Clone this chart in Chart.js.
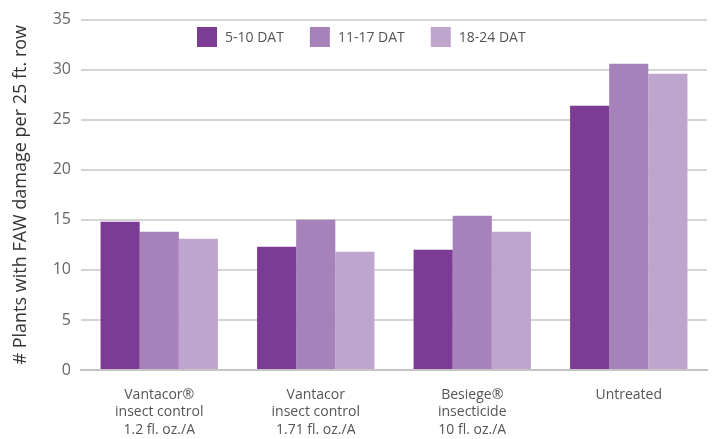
<!DOCTYPE html>
<html>
<head>
<meta charset="utf-8">
<script src="https://cdn.jsdelivr.net/npm/chart.js@4"></script>
<style>
  html, body { margin: 0; padding: 0; background: #fff; }
  #wrap { width: 714px; height: 439px; }
</style>
</head>
<body>
<div id="wrap"><canvas id="c" width="714" height="439"></canvas></div>
<script>
// treatments along the x axis (each label split into lines)
const categories = [
  ["Vantacor\u00AE", "insect control", "1.2 fl. oz./A"],
  ["Vantacor", "insect control", "1.71 fl. oz./A"],
  ["Besiege\u00AE", "insecticide", "10 fl. oz./A"],
  ["Untreated"]
]
const seriesNames = ["5-10 DAT", "11-17 DAT", "18-24 DAT"]
const dat5to10 = [14.8, 12.3, 12.0, 26.4]
const dat11to17 = [13.8, 15.0, 15.4, 30.6]
const dat18to24 = [13.1, 11.8, 13.8, 29.6]
const yTicks = [0, 5, 10, 15, 20, 25, 30, 35]

const colors = ["#7c3c95", "#a681ba", "#bfa5cd"]
const FONT = "'Open Sans', 'Noto Sans', sans-serif"

// legend drawn inside the plot area, like the original
const insideLegend = {
  id: "insideLegend",
  afterDraw(chart) {
    const ctx = chart.ctx
    ctx.save()
    ctx.font = "14px " + FONT
    ctx.textBaseline = "middle"
    let x = 197
    const y = 37
    chart.data.datasets.forEach((ds, i) => {
      ctx.fillStyle = ds.backgroundColor
      ctx.fillRect(x, y - 10, 20, 20)
      ctx.fillStyle = "#555"
      ctx.fillText(ds.label, x + 28, y + 1)
      x += 28 + ctx.measureText(ds.label).width + 26
    })
    ctx.restore()
  }
}

new Chart(document.getElementById("c"), {
  type: "bar",
  data: {
    labels: categories,
    datasets: [dat5to10, dat11to17, dat18to24].map((d, i) => ({
      label: seriesNames[i],
      data: d,
      backgroundColor: colors[i],
      categoryPercentage: 0.75,
      barPercentage: 1.0
    }))
  },
  options: {
    responsive: false,
    animation: false,
    layout: { padding: { top: 12, right: 7, left: 0, bottom: 0 } },
    plugins: {
      legend: { display: false },
      tooltip: { enabled: false }
    },
    scales: {
      x: {
        grid: { display: false },
        border: { display: true, color: "#c4c4c4", width: 2 },
        ticks: {
          color: "#555",
          font: { family: FONT, size: 14, lineHeight: 1.25 },
          padding: 8,
          maxRotation: 0,
          autoSkip: false
        },
        afterFit(scale) { scale.height = 69 }
      },
      y: {
        min: 0,
        max: 35,
        afterBuildTicks(scale) { scale.ticks = yTicks.map(v => ({ value: v })) },
        grid: { color: "#d4d4d4", lineWidth: 2, drawTicks: false },
        border: { display: false },
        ticks: {
          color: "#666",
          font: { family: FONT, size: 16 },
          padding: 10
        },
        title: {
          display: true,
          text: "# Plants with FAW damage per 25 ft. row",
          color: "#333",
          font: { family: FONT, size: 18 },
          padding: { top: 10, bottom: 0 }
        },
        afterFit(scale) { scale.width = 81 }
      }
    }
  },
  plugins: [insideLegend]
})
</script>
</body>
</html>
